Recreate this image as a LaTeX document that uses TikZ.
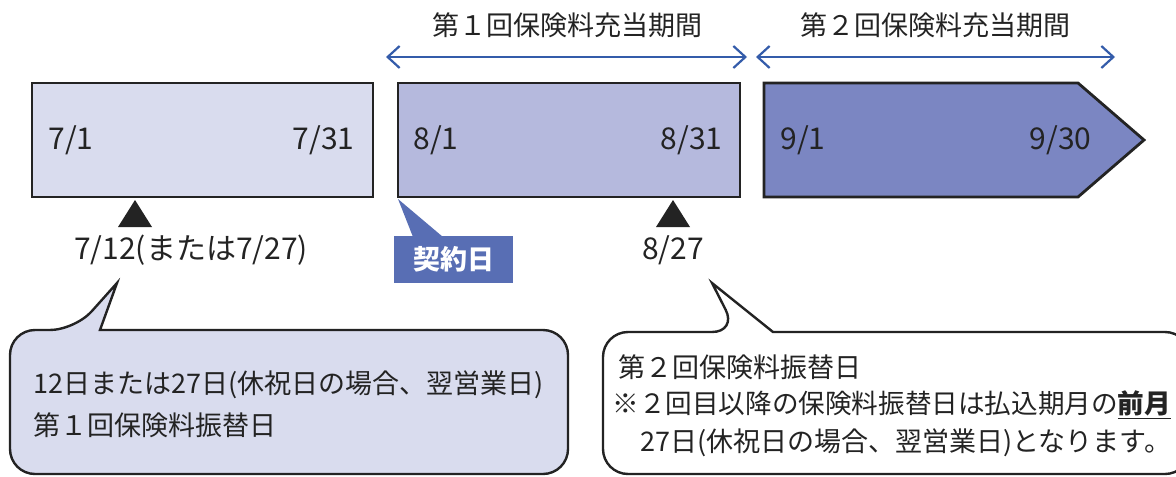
\documentclass[tikz,border=0pt]{standalone}
\usepackage{fontspec}
\setmainfont{Noto Sans CJK JP}
\usepackage{tikz}
\usetikzlibrary{arrows.meta}
\definecolor{lavA}{RGB}{217,220,238}
\definecolor{lavB}{RGB}{181,185,221}
\definecolor{lavC}{RGB}{123,134,194}
\definecolor{spanblue}{RGB}{52,92,170}
\definecolor{tagblue}{RGB}{88,110,180}
\definecolor{ink}{RGB}{35,35,35}

\begin{document}
\begin{tikzpicture}[x=0.5pt,y=-0.5pt,
    font=\fontsize{13.5}{16}\selectfont, text=ink,
    period/.style={draw=ink,line width=1.4pt,line join=miter},
    span/.style={spanblue,line width=1.1pt,{Straight Barb[length=6pt,width=11pt]}-{Straight Barb[length=6pt,width=11pt]}},
    say/.style={draw=ink,line width=1.2pt},
    txt/.style={inner sep=0pt},
    day/.style={inner sep=0pt,font=\fontsize{15}{18}\selectfont}]
      \useasboundingbox (0,0) rectangle (1176,476);
      \draw[period,fill=lavA] (32,83) rectangle (373,197);
      \draw[period,fill=lavB] (398,83) rectangle (740,197);
      \draw[period,fill=lavC] (764,83) -- (1078,83) -- (1144,140) -- (1078,197) -- (764,197) -- cycle;
      \node (d71) at (48,140) [day,anchor=west] {7/1};
      \node (d731) at (355,140) [day,anchor=east] {7/31};
      \node (d81) at (413,140) [day,anchor=west] {8/1};
      \node (d831) at (723,140) [day,anchor=east] {8/31};
      \node (d91) at (780,140) [day,anchor=west] {9/1};
      \node (d930) at (1092,140) [day,anchor=east] {9/30};
      \coordinate (s1a) at (386,57);
      \coordinate (s1b) at (747,57);
      \coordinate (s2a) at (756,57);
      \coordinate (s2b) at (1115,57);
      \draw[span] (s1a) -- (s1b);
      \draw[span] (s2a) -- (s2b);
      \node (t1) at (567,25) [txt] {第１回保険料充当期間};
      \node (t2) at (935,25) [txt] {第２回保険料充当期間};
      \fill[ink] (135,200) -- (152,227) -- (118,227) -- cycle;
      \fill[ink] (673,200) -- (690,227) -- (656,227) -- cycle;
      \node (pay1) at (191,250) [day] {7/12(または7/27)};
      \node (pay2) at (673,250) [day] {8/27};
      \fill[tagblue] (398,199) -- (443,237) -- (413,237) -- cycle;
      \node (tag) at (453.5,259.5) [fill=tagblue,text=white,minimum width=59.5pt,minimum height=23.5pt,inner sep=0pt,font=\fontsize{13.5}{16}\selectfont\bfseries] {契約日};
      \draw[say,fill=lavA] (100,330) [rounded corners=12.5pt] -- (568,330) -- (568,474) -- (10,474) -- (10,330) -- (75,330) [sharp corners] -- (117,283) -- cycle;
      \draw[say,fill=white] (773,332) [rounded corners=12.5pt] -- (1190,332) -- (1190,474) -- (603,474) -- (603,332) -- (737,332) [sharp corners] -- (712,283) -- cycle;
      \node (c1a) at (33,385) [txt,anchor=west] {12日または27日(休祝日の場合、翌営業日)};
      \node (c1b) at (33,425) [txt,anchor=west] {第１回保険料振替日};
      \node (c2a) at (618,367) [txt,anchor=west] {第２回保険料振替日};
      \node (c2b) at (612,405) [txt,anchor=west,font=\fontsize{13.3}{16}\selectfont] {※２回目以降の保険料振替日は払込期月の\textbf{\underline{前月}}};
      \node (c2c) at (640,443) [txt,anchor=west] {27日(休祝日の場合、翌営業日)となります。};
    \end{tikzpicture}
\end{document}
